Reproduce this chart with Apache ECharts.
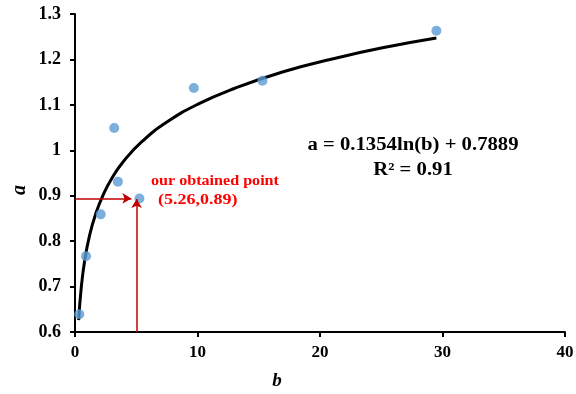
<!DOCTYPE html>
<html>
<head>
<meta charset="utf-8">
<script src="https://cdn.jsdelivr.net/npm/echarts@6/dist/echarts.min.js"></script>
<style>
  html, body { margin: 0; padding: 0; background: #fff; }
  #chart { width: 576px; height: 394px; }
</style>
</head>
<body>
<div id="chart"></div>
<script>
// measured points (b, a)
const bValues = [0.35, 0.9, 2.1, 3.2, 3.5, 5.26, 9.7, 15.3, 29.5];
const aValues = [0.639, 0.767, 0.859, 1.049, 0.931, 0.894, 1.137, 1.153, 1.263];

// fitted log curve
const curveB = [0.3, 0.5, 0.8, 1.2, 1.7, 2.3, 3, 4, 5.5, 7.5, 10, 13, 17, 21, 25, 29.5];
const curveA = [0.626, 0.695, 0.759, 0.814, 0.861, 0.902, 0.938, 0.977, 1.020, 1.062, 1.101, 1.136, 1.173, 1.201, 1.225, 1.247];

// annotation arrows
const arrowH = [[0, 0.894], [4.6, 0.894]];
const arrowV = [[5.03, 0.6], [5.03, 0.893]];

const xTicks = [0, 10, 20, 30, 40];

const chart = echarts.init(document.getElementById("chart"));

const serif = "'Liberation Serif', 'DejaVu Serif', serif";

const option = {
  animation: false,
  grid: { left: 75, right: 11, top: 14, bottom: 62, outerBoundsMode: "none" },
  xAxis: {
    type: "value",
    min: xTicks[0],
    max: xTicks[xTicks.length - 1],
    interval: 10,
    splitLine: { show: false },
    axisLine: { lineStyle: { color: "#000", width: 2 } },
    axisTick: { inside: false, length: 5, lineStyle: { color: "#000", width: 2 } },
    axisLabel: { color: "#000", fontFamily: serif, fontWeight: "bold", fontSize: 17, margin: 12 },
  },
  yAxis: {
    type: "value",
    min: 0.6,
    max: 1.3,
    interval: 0.1,
    splitLine: { show: false },
    axisLine: { show: true, lineStyle: { color: "#000", width: 2 } },
    axisTick: { show: true, length: 5, lineStyle: { color: "#000", width: 2 } },
    axisLabel: {
      color: "#000", fontFamily: serif, fontWeight: "bold", fontSize: 18, margin: 14,
      formatter: (v) => String(Math.round(v * 10) / 10),
    },
  },
  series: [
    {
      type: "line",
      data: curveB.map((b, i) => [b, curveA[i]]),
      smooth: true,
      showSymbol: false,
      symbol: "none",
      lineStyle: { color: "#000", width: 3 },
      z: 2,
    },
    {
      type: "scatter",
      data: bValues.map((b, i) => [b, aValues[i]]),
      symbolSize: 10,
      itemStyle: { color: "#5b9bd5" },
      z: 3,
      markLine: {
        silent: true,
        symbol: ["none", "arrow"],
        symbolSize: [8, 9],
        label: { show: false },
        lineStyle: { color: "#c00000", width: 1.5, type: "solid" },
        data: [
          [{ coord: arrowH[0] }, { coord: arrowH[1] }],
          [{ coord: arrowV[0] }, { coord: arrowV[1] }],
        ],
      },
    },
  ],
  graphic: [
    {
      type: "text", x: 151, y: 181, scaleX: 1.15,
      style: { text: "our obtained point", fill: "#ff0000", font: "bold 14px " + serif, textVerticalAlign: "middle" },
    },
    {
      type: "text", x: 158, y: 200, scaleX: 1.2,
      style: { text: "(5.26,0.89)", fill: "#ff0000", font: "bold 15px " + serif, textVerticalAlign: "middle" },
    },
    {
      type: "text", x: 413, y: 145, scaleX: 1.15,
      style: { text: "a = 0.1354ln(b) + 0.7889", fill: "#000", font: "bold 18px " + serif, textAlign: "center", textVerticalAlign: "middle" },
    },
    {
      type: "text", x: 413, y: 170, scaleX: 1.15,
      style: { text: "R² = 0.91", fill: "#000", font: "bold 18px " + serif, textAlign: "center", textVerticalAlign: "middle" },
    },
    {
      type: "text", x: 20, y: 190, rotation: Math.PI / 2,
      style: { text: "a", fill: "#000", font: "italic bold 20px " + serif, textAlign: "center", textVerticalAlign: "middle" },
    },
    {
      type: "text", x: 277, y: 381,
      style: { text: "b", fill: "#000", font: "italic bold 19px " + serif, textAlign: "center", textVerticalAlign: "middle" },
    },
  ],
};

option && chart.setOption(option);
</script>
</body>
</html>
